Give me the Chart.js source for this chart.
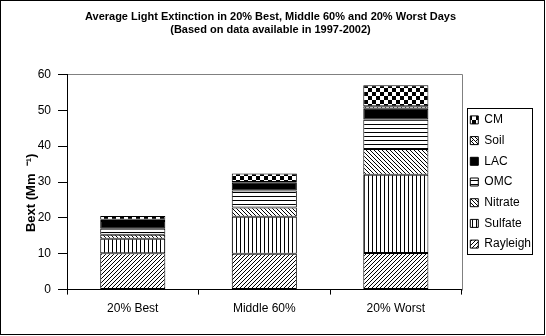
<!DOCTYPE html>
<html>
<head>
<meta charset="utf-8">
<script src="https://cdn.jsdelivr.net/npm/chart.js@4"></script>
<style>
	body { margin: 0; background: #fff; }
	#wrap { width: 546px; height: 336px; }
</style>
</head>
<body>
<div id="wrap"><canvas id="myChart"></canvas></div>
<script>
const categories = ['20% Best', 'Middle 60%', '20% Worst']
const rayleigh = [10.1, 10.0, 10.2]
const sulfate = [4.1, 10.3, 21.8]
const nitrate = [1.1, 2.6, 7.2]
const omc = [1.7, 4.7, 8.2]
const lac = [2.1, 2.2, 3.0]
const soil = [0.4, 0.2, 0.7]
const cm = [1.0, 2.4, 5.9]
const yTicks = [0, 10, 20, 30, 40, 50, 60]

const fontFamily = "'Liberation Sans', Arial, sans-serif"
Chart.defaults.font.family = fontFamily
Chart.defaults.color = '#000'

var ctx = document.getElementById('myChart')

function makePattern(size, draw) {
	var c = document.createElement('canvas')
	c.width = size
	c.height = size
	var g = c.getContext('2d')
	g.fillStyle = '#fff'
	g.fillRect(0, 0, size, size)
	g.fillStyle = '#000'
	draw(g)
	return ctx.getContext('2d').createPattern(c, 'repeat')
}

// Excel style hatch fills
var upDiag = makePattern(4, function (g) {
	for (var i = 0; i < 4; i++) g.fillRect(3 - i, i, 1, 1)
})
var vertical = makePattern(4, function (g) {
	g.fillRect(0, 0, 1, 4)
})
var downDiag = makePattern(4, function (g) {
	for (var i = 0; i < 4; i++) g.fillRect(i, i, 1, 1)
})
var horizontal = makePattern(4, function (g) {
	g.fillRect(0, 0, 4, 1)
})
var dotted = makePattern(4, function (g) {
	g.fillRect(0, 0, 1, 1)
	g.fillRect(2, 0, 1, 1)
	g.fillRect(0, 2, 1, 1)
	g.fillRect(1, 3, 1, 1)
	g.fillRect(3, 1, 1, 1)
})
var checker = makePattern(8, function (g) {
	g.fillRect(0, 0, 4, 4)
	g.fillRect(4, 4, 4, 4)
})

function series(label, values, fill) {
	return {
		label: label,
		data: values,
		backgroundColor: fill,
		borderColor: '#000',
		borderWidth: 1,
		borderSkipped: false,
		barPercentage: 0.495,
		categoryPercentage: 1
	}
}

// white background, outer frame, gray plot border, legend frame
var frame = {
	id: 'frame',
	beforeDraw: function (chart) {
		var c = chart.ctx
		c.save()
		c.fillStyle = '#fff'
		c.fillRect(0, 0, chart.width, chart.height)
		c.strokeStyle = '#000'
		c.lineWidth = 1
		c.strokeRect(0.5, 0.5, 544, 334)
		var a = chart.chartArea
		c.strokeStyle = '#808080'
		c.beginPath()
		c.moveTo(Math.round(a.left) + 0.5, Math.round(a.top) + 0.5)
		c.lineTo(Math.round(a.right) + 0.5, Math.round(a.top) + 0.5)
		c.lineTo(Math.round(a.right) + 0.5, Math.round(a.bottom) + 0.5)
		c.stroke()
		c.restore()
	},
	afterDraw: function (chart) {
		var boxes = chart.legend.legendHitBoxes
		if (!boxes || !boxes.length) return
		var x0 = 1e9, x1 = 0, y0 = 1e9, y1 = 0
		boxes.forEach(function (b) {
			x0 = Math.min(x0, b.left)
			x1 = Math.max(x1, b.left + b.width)
			y0 = Math.min(y0, b.top)
			y1 = Math.max(y1, b.top + b.height)
		})
		var c = chart.ctx
		c.save()
		c.strokeStyle = '#000'
		c.lineWidth = 1
		c.strokeRect(Math.round(x0 - 3) + 0.5, Math.round(y0 - 6) + 0.5, Math.round(x1 - x0 + 4), Math.round(y1 - y0 + 10))
		c.restore()
	}
}

var chart = new Chart(ctx, {
	type: 'bar',
	data: {
		labels: categories,
		datasets: [
			series('Rayleigh', rayleigh, upDiag),
			series('Sulfate', sulfate, vertical),
			series('Nitrate', nitrate, downDiag),
			series('OMC', omc, horizontal),
			series('LAC', lac, '#000'),
			series('Soil', soil, dotted),
			series('CM', cm, checker)
		]
	},
	options: {
		responsive: true,
		maintainAspectRatio: false,
		animation: false,
		layout: { padding: { left: 0, right: 5, top: 0, bottom: 13 } },
		plugins: {
			title: {
				display: true,
				text: ['Average Light Extinction in 20% Best, Middle 60% and 20% Worst Days', '(Based on data available in 1997-2002)'],
				font: { size: 11, weight: 'bold' },
				lineHeight: 1.2,
				padding: { top: 10, bottom: 38 }
			},
			legend: {
				position: 'right',
				fullSize: false,
				reverse: true,
				labels: {
					boxWidth: 8,
					boxHeight: 8,
					padding: 8.7,
					font: { size: 12 },
					color: '#000'
				}
			},
			tooltip: { enabled: false }
		},
		scales: {
			x: {
				stacked: true,
				offset: true,
				grid: { display: true, offset: true, drawOnChartArea: false, drawTicks: true, tickLength: 5, color: '#000' },
				border: { display: true, color: '#000' },
				ticks: { font: { size: 12 }, padding: 7, color: '#000', maxRotation: 0 }
			},
			y: {
				stacked: true,
				min: 0,
				max: 60,
				afterBuildTicks: function (scale) {
					scale.ticks = yTicks.map(function (v) { return { value: v } })
				},
				afterFit: function (scale) {
					scale.width = 67
				},
				grid: { display: true, drawOnChartArea: false, drawTicks: true, tickLength: 9, color: '#000' },
				border: { display: true, color: '#000' },
				ticks: { font: { size: 12 }, padding: 7, color: '#000' },
				title: {
					display: true,
					text: 'Bext (Mm  \u207B\u00B9)      ',
					font: { size: 13, weight: 'bold' },
					padding: { top: 24, bottom: 0 }
				}
			}
		}
	},
	plugins: [frame]
})
</script>
</body>
</html>
